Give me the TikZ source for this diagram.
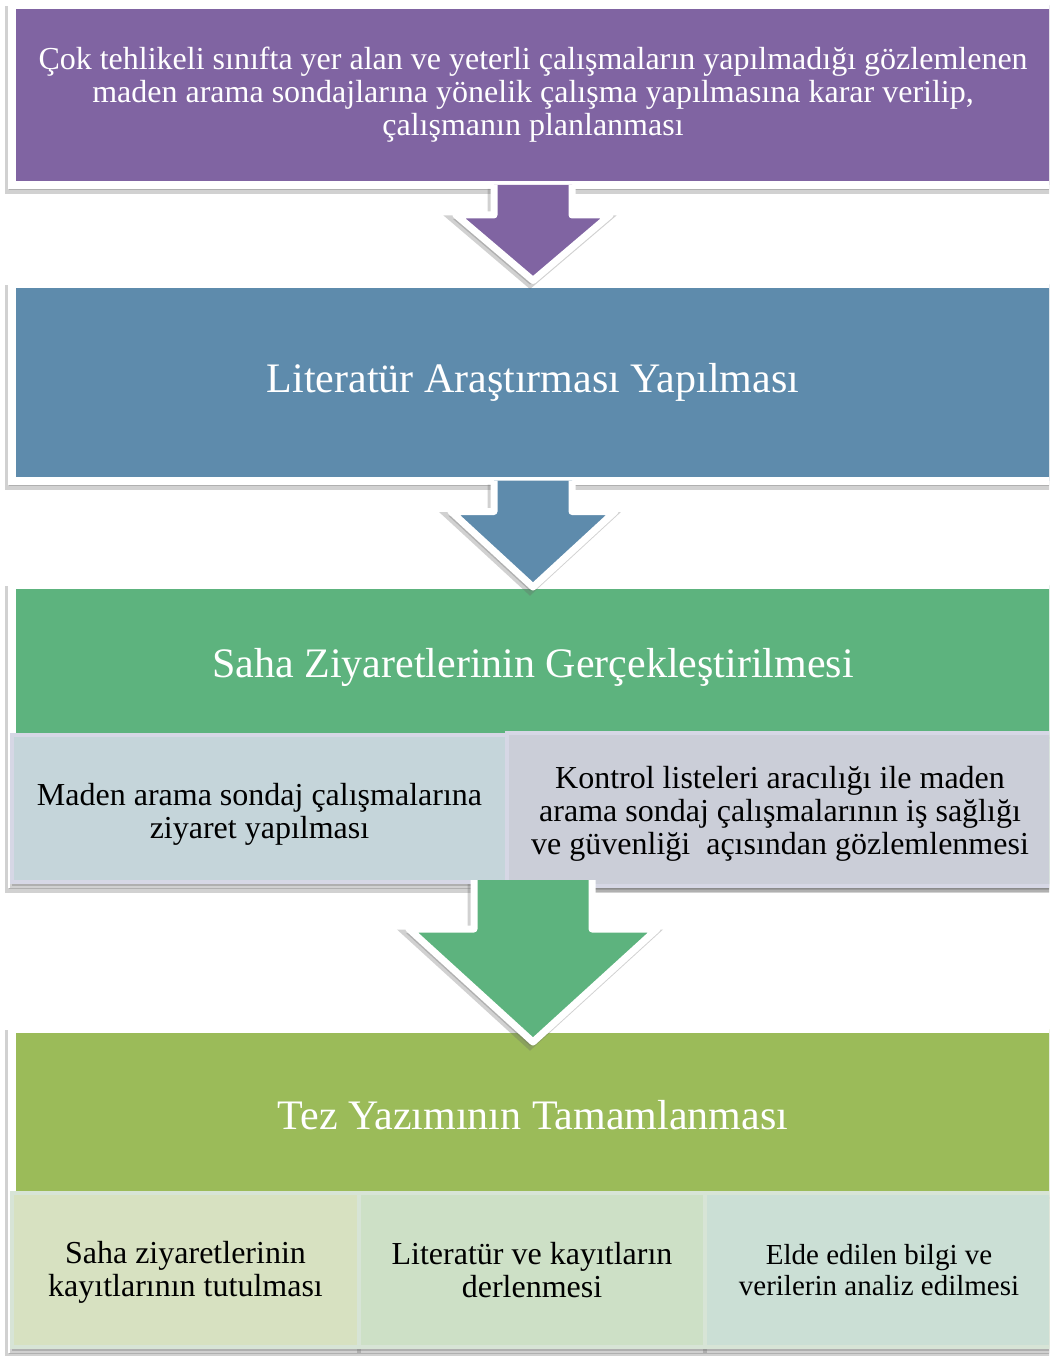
\documentclass[tikz,border=0pt]{standalone}
\usepackage{fontspec}
\setmainfont{Liberation Serif}
\usetikzlibrary{positioning,calc,shadows}

\definecolor{purp}{HTML}{8064A2}
\definecolor{steel}{HTML}{5E8BAC}
\definecolor{grn}{HTML}{5DB37E}
\definecolor{olive}{HTML}{9BBB59}
\definecolor{lav}{HTML}{D6D7E5}
\definecolor{subA}{HTML}{C5D5DA}
\definecolor{subB}{HTML}{CBCED8}
\definecolor{pale}{HTML}{D7E4D6}
\definecolor{subC}{HTML}{D7E1C1}
\definecolor{subD}{HTML}{CDE0C6}
\definecolor{subE}{HTML}{CBDFD5}

\begin{document}
\begin{tikzpicture}[x=1pt,y=-1pt,
  stage/.style={draw=white,line width=8pt,minimum width=1042pt,inner sep=0pt,
    drop shadow={shadow xshift=-3pt,shadow yshift=-5pt,draw=black!60,line width=8pt,fill=black!60,opacity=.3}},
  head/.style={text=white,font=\fontsize{42}{46}\selectfont},
  part/.style={line width=4pt,inner sep=0pt,
    drop shadow={shadow xshift=0pt,shadow yshift=-4pt,draw=black!60,line width=4pt,fill=black!60,opacity=.3}},
  parttext/.style={align=center,font=\fontsize{32}{33}\selectfont},
  blockarrow/.style={draw=white,line width=7pt,line join=round,
    drop shadow={shadow xshift=-3pt,shadow yshift=-4pt,draw=black!60,line width=7pt,fill=black!60,opacity=.3}}]
\useasboundingbox (0,0) rectangle (1049,1356);
\clip (0,0) rectangle (1049,1356);

% stages
\node[stage,fill=purp,minimum height=180pt,text=white,align=center,font=\fontsize{32}{33}\selectfont] (b1) at (533,95)
  {Çok tehlikeli sınıfta yer alan ve yeterli çalışmaların yapılmadığı gözlemlenen\\maden arama sondajlarına yönelik çalışma yapılmasına karar verilip,\\çalışmanın planlanması};
\node[stage,fill=steel,minimum height=197pt,head] (b2) at (533,382) {Literatür Araştırması Yapılması};

\node[stage,fill=grn,minimum height=299pt] (b3) at (533,734.5) {};
\node[head] (h3) at ($(b3.north)+(0,86)$) {Saha Ziyaretlerinin Gerçekleştirilmesi};
\node[part,draw=lav,fill=subA,minimum width=495pt,minimum height=147pt] (s1) at (259.5,808.5) {};
\node[parttext] (t1) at ($(s1)+(0,6)$) {Maden arama sondaj çalışmalarına\\ziyaret yapılması};
\node[part,draw=lav,fill=subB,minimum width=546pt,minimum height=153pt] (s2) at (780,809.5) {};
\node[parttext] (t2) at ($(s2)+(0,4)$) {Kontrol listeleri aracılığı ile maden\\arama sondaj çalışmalarının iş sağlığı\\ve güvenliği\ \ açısından gözlemlenmesi};
\coordinate (b3s) at (b3.south |- s1.south);

\node[stage,fill=olive,minimum height=320pt] (b4) at (533,1189) {};
\node[head] (h4) at ($(b4.north)+(0,90)$) {Tez Yazımının Tamamlanması};
\node[part,draw=pale,fill=subC,minimum width=347pt,minimum height=154pt] (s3) at (185.5,1270) {};
\node[parttext] (t3) at ($(s3)+(0,2)$) {Saha ziyaretlerinin\\kayıtlarının tutulması};
\node[part,draw=pale,fill=subD,minimum width=346pt,minimum height=154pt] (s4) at (532,1270) {};
\node[parttext] (t4) at (s4) {Literatür ve kayıtların\\derlenmesi};
\node[part,draw=pale,fill=subE,minimum width=348pt,minimum height=154pt] (s5) at (879,1270) {};
\node[parttext,font=\fontsize{29}{31}\selectfont] (t5) at (s5) {Elde edilen bilgi ve\\verilerin analiz edilmesi};

% block arrows between stages
\foreach \a/\b/\sw/\sl/\hw/\dt/\col in {b1.south/b2/39/26/77/1/purp,b2.south/b3/39/27/82/6/steel,b3s/b4/59/45/124/17/grn}
  \draw[blockarrow,fill=\col] ($(\a)+(-\sw,-4)$) -- ($(\a)+(-\sw,\sl)$) -- ($(\a)+(-\hw,\sl)$)
    -- ($(\b.north)+(0,\dt)$) -- ($(\a)+(\hw,\sl)$) -- ($(\a)+(\sw,\sl)$) -- ($(\a)+(\sw,-4)$);
\end{tikzpicture}
\end{document}
